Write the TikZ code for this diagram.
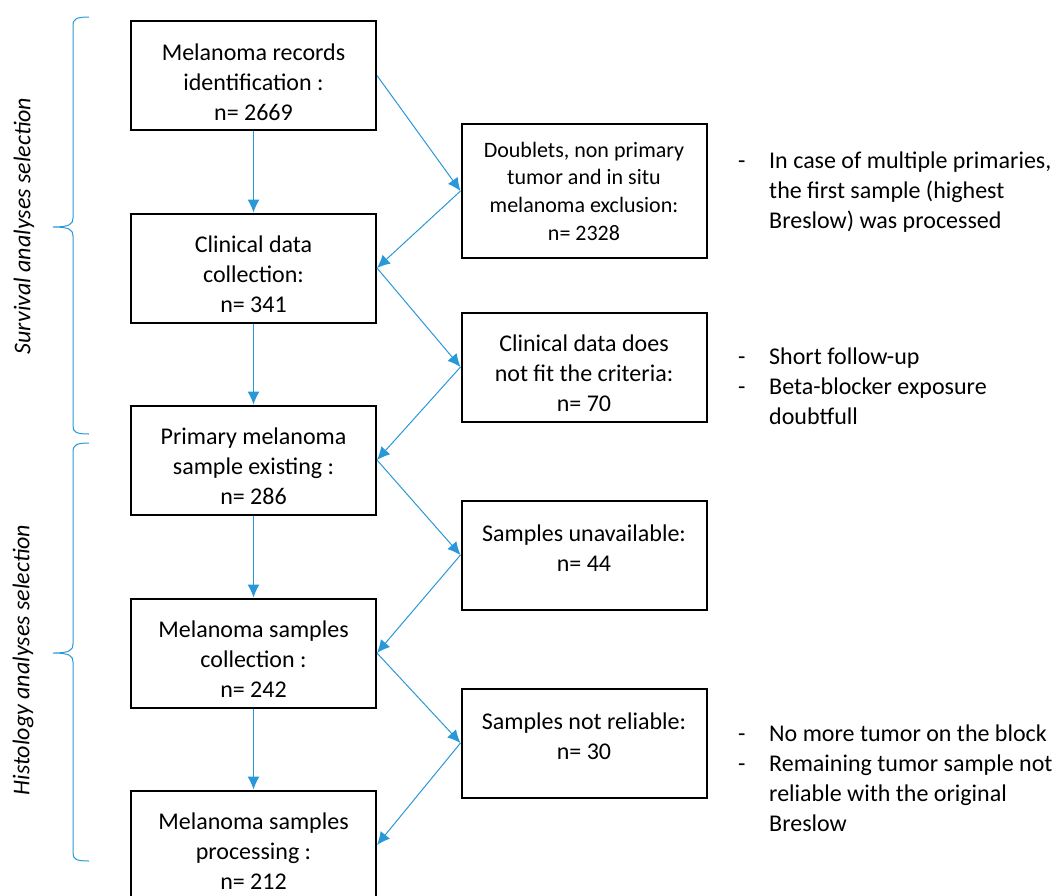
\documentclass[tikz,border=0pt]{standalone}
\usepackage{fontspec}
\setmainfont{Carlito}
\usetikzlibrary{arrows.meta}
\definecolor{linkblue}{RGB}{41,152,216}
\newcommand{\stagetext}[3]{\parbox[c][#1][t]{245pt}{\centering\rule{0pt}{#2}#3}}

\begin{document}
\begin{tikzpicture}[x=1pt,y=-1pt,
  every node/.style={font=\fontsize{24}{30}\selectfont},
  stage/.style={draw,line width=2pt,inner sep=0pt},
  flow/.style={draw=linkblue,line width=1pt,-{Latex[length=13pt,width=12pt]}},
  curly/.style={draw=linkblue,line width=1pt},
  side/.style={anchor=base west,inner sep=0pt},
  group/.style={rotate=90,font=\fontsize{24}{30}\selectfont\itshape}]
\useasboundingbox (0,0) rectangle (1059,895);
\clip (0,0) rectangle (1059,895);
%left column
\node[stage] (records) at (253.5,75.5) {\stagetext{109pt}{39pt}{Melanoma records\\ identification :\\ n= 2669}};
\node[stage] (clinical) at (253.5,268) {\stagetext{109pt}{39pt}{Clinical data\\ collection:\\ n= 341}};
\node[stage] (primary) at (253.5,460) {\stagetext{109pt}{39pt}{Primary melanoma\\ sample existing :\\ n= 286}};
\node[stage] (collect) at (253.5,653) {\stagetext{109pt}{39pt}{Melanoma samples\\ collection :\\ n= 242}};
\node[stage] (process) at (253.5,845) {\stagetext{109pt}{39pt}{Melanoma samples\\ processing :\\ n= 212}};
%right column
\node[stage,font=\fontsize{22}{27.7}\selectfont] (doublets) at (584,191) {\stagetext{134pt}{33pt}{Doublets, non primary\\ tumor and in situ\\ melanoma exclusion:\\ n= 2328}};
\node[stage] (nofit) at (584,367) {\stagetext{109pt}{39pt}{Clinical data does\\ not fit the criteria:\\ n= 70}};
\node[stage] (unavail) at (584,555) {\stagetext{109pt}{41pt}{Samples unavailable:\\ n= 44}};
\node[stage] (unreliable) at (584,743) {\stagetext{109pt}{41pt}{Samples not reliable:\\ n= 30}};
%arrows down
\draw[flow] (records) -- (clinical);
\draw[flow] (clinical) -- (primary);
\draw[flow] (primary) -- (collect);
\draw[flow] (collect) -- (process);
%arrows out and back
\draw[flow] (records.east) -- (doublets.west);
\draw[flow] (doublets.west) -- (clinical.east);
\draw[flow] (clinical.east) -- (nofit.west);
\draw[flow] (nofit.west) -- (primary.east);
\draw[flow] (primary.east) -- (unavail.west);
\draw[flow] (unavail.west) -- (collect.east);
\draw[flow] (collect.east) -- (unreliable.west);
\draw[flow] (unreliable.west) -- (process.east);
%notes
\node[side] (note1) at (738,168) {\begin{tabular}[t]{@{}p{31pt}@{}l@{}}
- & In case of multiple primaries,\\
 & the first sample (highest\\
 & Breslow) was processed\end{tabular}};
\node[side] (note2) at (738,364) {\begin{tabular}[t]{@{}p{31pt}@{}l@{}}
- & Short follow-up\\
- & Beta-blocker exposure\\
 & doubtfull\end{tabular}};
\node[side] (note3) at (738,741) {\begin{tabular}[t]{@{}p{31pt}@{}l@{}}
- & No more tumor on the block\\
- & Remaining tumor sample not\\
 & reliable with the original\\
 & Breslow\end{tabular}};
%braces
\draw[curly] (89,17) .. controls (76,17) and (73,19) .. (73,26) -- (73,218) .. controls (73,224) and (70,227) .. (53,227)
 .. controls (70,227) and (73,230) .. (73,236) -- (73,426) .. controls (73,432) and (76,434) .. (89,434);
\draw[curly] (89,443) .. controls (76,443) and (73,445) .. (73,452) -- (73,644) .. controls (73,650) and (70,653) .. (53,653)
 .. controls (70,653) and (73,656) .. (73,662) -- (73,853) .. controls (73,859) and (76,861) .. (89,861);
\node[group] (survival) at (24,226) {Survival analyses selection};
\node[group] (histology) at (23,660) {Histology analyses selection};
\end{tikzpicture}
\end{document}
